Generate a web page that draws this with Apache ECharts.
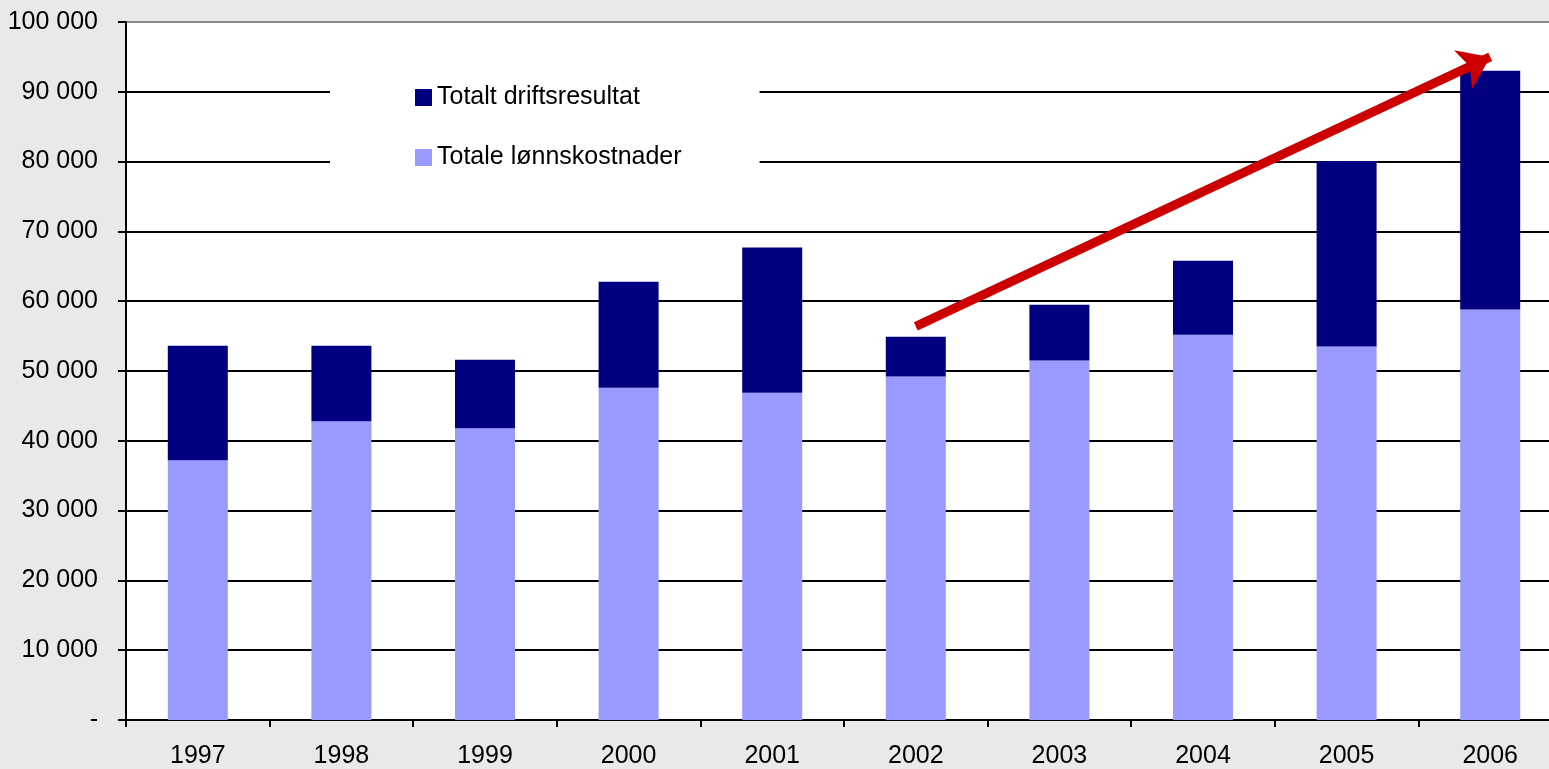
<!DOCTYPE html>
<html lang="no">
<head>
    <meta charset="UTF-8">
    <title>Lønnskostnader og driftsresultat</title>
    <script src="https://cdn.jsdelivr.net/npm/echarts@6/dist/echarts.min.js"></script>
    <style>
        html, body { margin: 0; padding: 0; background: #e9e9e9; overflow: hidden; }
        /* plot runs past the right edge of the window, as in the original */
        #chart { width: 1562px; height: 769px; }
    </style>
</head>
<body>
<div id="chart"></div>
<script>
    // data (i 1000 kr)
    var years = ['1997', '1998', '1999', '2000', '2001', '2002', '2003', '2004', '2005', '2006'];
    var lonnskostnader = [37200, 42800, 41800, 47600, 46900, 49200, 51500, 55200, 53500, 58800];
    var driftsresultat = [16400, 10800, 9800, 15200, 20800, 5700, 8000, 10600, 26600, 34200];
    var arrowFrom = ['2002', 56400];
    var arrowTo = ['2006', 95000];

    var font = 'Liberation Sans, Arial, sans-serif';

    // split line colours: black, top one grey
    var gridColors = [];
    for (var i = 0; i < 11; i++) {
        gridColors.push(i === 10 ? '#888888' : '#000000');
    }

    function fmt(v) {
        if (v === 0) return '-';
        return String(v).replace(/\B(?=(\d{3})+(?!\d))/g, ' ');
    }

    var mychart = echarts.init(document.getElementById('chart'));

    var option = {
        backgroundColor: '#e9e9e9',
        animation: false,
        textStyle: { fontFamily: font },
        grid: {
            left: 126,
            top: 22,
            bottom: 48,
            right: 0,
            show: true,
            backgroundColor: '#ffffff',
            borderWidth: 0
        },
        legend: {
            orient: 'vertical',
            left: 330,
            top: 59,
            data: ['Totalt driftsresultat', 'Totale lønnskostnader'],
            icon: 'rect',
            itemWidth: 17,
            itemHeight: 17,
            itemGap: 35,
            backgroundColor: '#ffffff',
            padding: [26, 78, 28, 85],
            textStyle: { fontSize: 25, color: '#000', fontFamily: font }
        },
        xAxis: {
            type: 'category',
            data: years,
            axisLine: { lineStyle: { color: '#000', width: 2 } },
            axisTick: { show: true, length: 7, lineStyle: { color: '#000', width: 2 } },
            axisLabel: { color: '#000', fontSize: 25, margin: 24, fontFamily: font },
            splitLine: { show: false }
        },
        yAxis: {
            type: 'value',
            min: 0,
            max: 100000,
            interval: 10000,
            axisLine: { show: true, lineStyle: { color: '#000', width: 2 } },
            axisTick: { show: true, length: 8, lineStyle: { color: '#000', width: 2 } },
            axisLabel: { color: '#000', fontSize: 25, margin: 28, formatter: fmt, fontFamily: font },
            splitLine: { show: true, lineStyle: { color: gridColors, width: 2 } }
        },
        series: [
            {
                name: 'Totale lønnskostnader',
                type: 'bar',
                stack: 'tot',
                barWidth: 60,
                itemStyle: { color: '#9999ff' },
                data: lonnskostnader
            },
            {
                name: 'Totalt driftsresultat',
                type: 'bar',
                stack: 'tot',
                barWidth: 60,
                itemStyle: { color: '#000080' },
                data: driftsresultat
            },
            {
                // red trend arrow
                name: 'pil',
                type: 'line',
                data: [],
                silent: true,
                markLine: {
                    silent: true,
                    symbol: ['none', 'arrow'],
                    symbolSize: [32, 30],
                    label: { show: false },
                    lineStyle: { color: '#cc0000', width: 9, type: 'solid' },
                    data: [[{ coord: arrowFrom }, { coord: arrowTo }]]
                }
            }
        ]
    };

    mychart.setOption(option);
</script>
</body>
</html>
